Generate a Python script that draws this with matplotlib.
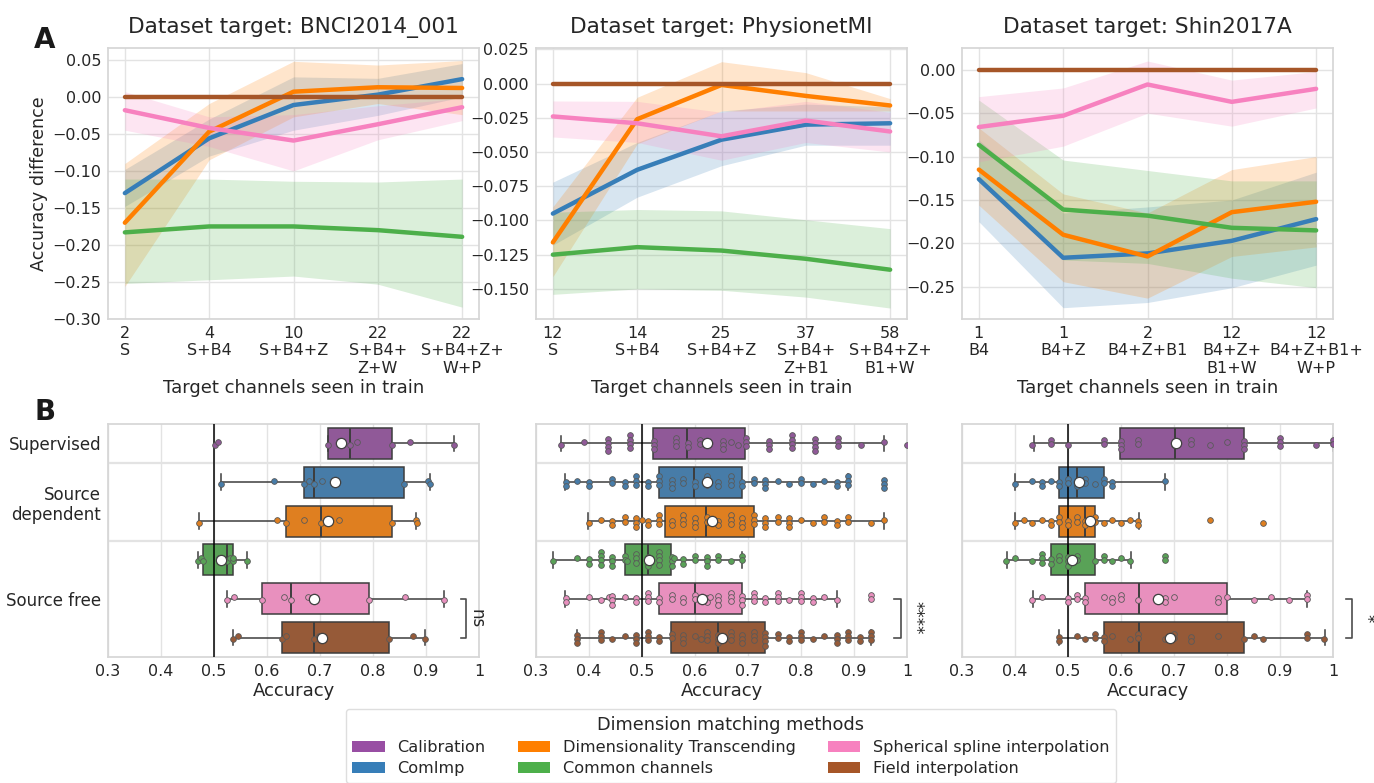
import colorsys
import numpy as np
import matplotlib
matplotlib.use("Agg")
import matplotlib.pyplot as plt
from matplotlib.patches import Patch
import matplotlib.colors as mcolors

plt.rcParams['font.family'] = ['DejaVu Sans']
plt.rcParams['text.color'] = '0.15'
plt.rcParams['axes.labelcolor'] = '0.15'
plt.rcParams['xtick.color'] = '0.15'
plt.rcParams['ytick.color'] = '0.15'

# ---------------- DATA ----------------
methods = ["Calibration", "ComImp", "Dimensionality Transcending",
           "Common channels", "Spherical spline interpolation", "Field interpolation"]
method_colors = ["#984ea3", "#377eb8", "#ff7f00", "#4daf4a", "#f781bf", "#a65628"]

titles = ["Dataset target: BNCI2014_001", "Dataset target: PhysionetMI", "Dataset target: Shin2017A"]

xt_bnci = ["2\nS", "4\nS+B4", "10\nS+B4+Z", "22\nS+B4+\nZ+W", "22\nS+B4+Z+\nW+P"]
xt_phys = ["12\nS", "14\nS+B4", "25\nS+B4+Z", "37\nS+B4+\nZ+B1", "58\nS+B4+Z+\nB1+W"]
xt_shin = ["1\nB4", "1\nB4+Z", "2\nB4+Z+B1", "12\nB4+Z+\nB1+W", "12\nB4+Z+B1+\nW+P"]

# line means (order: ComImp, DT, Common, Spherical, Field)
bnci_comimp = [-0.130, -0.056, -0.011, 0.003, 0.024]
bnci_dt = [-0.170, -0.047, 0.007, 0.013, 0.012]
bnci_common = [-0.183, -0.175, -0.175, -0.180, -0.189]
bnci_spline = [-0.018, -0.042, -0.059, -0.037, -0.014]
bnci_field = [0.0, 0.0, 0.0, 0.0, 0.0]
bnci_comimp_lo = [-0.148, -0.080, -0.045, -0.025, 0.000]
bnci_comimp_hi = [-0.098, -0.030, 0.027, 0.025, 0.045]
bnci_dt_lo = [-0.256, -0.085, -0.027, -0.009, -0.024]
bnci_dt_hi = [-0.090, -0.009, 0.048, 0.043, 0.049]
bnci_common_lo = [-0.252, -0.247, -0.242, -0.253, -0.284]
bnci_common_hi = [-0.111, -0.111, -0.114, -0.115, -0.111]
bnci_spline_lo = [-0.045, -0.067, -0.100, -0.058, -0.032]
bnci_spline_hi = [0.007, -0.027, -0.024, -0.012, -0.002]

phys_comimp = [-0.095, -0.063, -0.041, -0.030, -0.029]
phys_dt = [-0.116, -0.026, -0.001, -0.009, -0.016]
phys_common = [-0.125, -0.1195, -0.122, -0.128, -0.136]
phys_spline = [-0.024, -0.029, -0.0385, -0.027, -0.035]
phys_field = [0.0, 0.0, 0.0, 0.0, 0.0]
phys_comimp_lo = [-0.118, -0.083, -0.060, -0.045, -0.045]
phys_comimp_hi = [-0.072, -0.043, -0.020, -0.015, -0.017]
phys_dt_lo = [-0.141, -0.044, -0.020, -0.020, -0.020]
phys_dt_hi = [-0.090, -0.010, 0.016, 0.008, -0.011]
phys_common_lo = [-0.154, -0.150, -0.151, -0.156, -0.164]
phys_common_hi = [-0.094, -0.092, -0.093, -0.0995, -0.106]
phys_spline_lo = [-0.039, -0.043, -0.056, -0.043, -0.050]
phys_spline_hi = [-0.0127, -0.013, -0.021, -0.013, -0.021]

shin_comimp = [-0.126, -0.2165, -0.2115, -0.197, -0.172]
shin_dt = [-0.115, -0.190, -0.215, -0.164, -0.152]
shin_common = [-0.0865, -0.161, -0.168, -0.182, -0.185]
shin_spline = [-0.066, -0.053, -0.017, -0.037, -0.022]
shin_field = [0.0, 0.0, 0.0, 0.0, 0.0]
shin_comimp_lo = [-0.175, -0.274, -0.268, -0.251, -0.225]
shin_comimp_hi = [-0.081, -0.165, -0.158, -0.150, -0.118]
shin_dt_lo = [-0.156, -0.244, -0.263, -0.215, -0.204]
shin_dt_hi = [-0.067, -0.143, -0.165, -0.115, -0.100]
shin_common_lo = [-0.129, -0.219, -0.223, -0.240, -0.251]
shin_common_hi = [-0.035, -0.104, -0.116, -0.128, -0.128]
shin_spline_lo = [-0.106, -0.088, -0.050, -0.065, -0.044]
shin_spline_hi = [-0.031, -0.021, 0.010, -0.012, -0.002]

# bottom panels: box statistics per method (Calibration..Field)
bnci_q1 = [0.715, 0.670, 0.635, 0.479, 0.591, 0.628]
bnci_med = [0.757, 0.688, 0.701, 0.525, 0.646, 0.688]
bnci_q3 = [0.835, 0.858, 0.835, 0.535, 0.792, 0.830]
bnci_wlo = [0.715, 0.514, 0.472, 0.469, 0.525, 0.535]
bnci_whi = [0.952, 0.907, 0.882, 0.562, 0.934, 0.899]
bnci_mean = [0.740, 0.728, 0.715, 0.513, 0.689, 0.704]

phys_q1 = [0.520, 0.533, 0.544, 0.467, 0.533, 0.555]
phys_med = [0.585, 0.599, 0.621, 0.511, 0.600, 0.644]
phys_q3 = [0.695, 0.689, 0.711, 0.555, 0.689, 0.733]
phys_wlo = [0.347, 0.354, 0.399, 0.332, 0.354, 0.378]
phys_whi = [0.957, 0.889, 0.956, 0.689, 0.867, 0.933]
phys_mean = [0.623, 0.623, 0.633, 0.514, 0.614, 0.651]

shin_q1 = [0.599, 0.483, 0.483, 0.467, 0.533, 0.567]
shin_med = [0.701, 0.517, 0.533, 0.500, 0.634, 0.634]
shin_q3 = [0.833, 0.567, 0.550, 0.550, 0.800, 0.833]
shin_wlo = [0.435, 0.400, 0.400, 0.384, 0.434, 0.483]
shin_whi = [1.000, 0.683, 0.634, 0.618, 0.951, 0.984]
shin_mean = [0.703, 0.520, 0.541, 0.507, 0.670, 0.693]

# per-subject points: (accuracy, number of subjects at that value)
bnci_points = [
    [(0.501, 1), (0.508, 1), (0.715, 1), (0.740, 1), (0.757, 1), (0.770, 1), (0.835, 1), (0.869, 1), (0.952, 1)],
    [(0.514, 1), (0.614, 1), (0.670, 1), (0.680, 1), (0.688, 1), (0.704, 1), (0.858, 1), (0.904, 1), (0.907, 1)],
    [(0.472, 1), (0.618, 1), (0.635, 1), (0.670, 1), (0.701, 1), (0.736, 1), (0.835, 1), (0.882, 1), (0.883, 1)],
    [(0.469, 1), (0.475, 1), (0.479, 1), (0.510, 1), (0.525, 1), (0.530, 1), (0.535, 1), (0.536, 1), (0.562, 1)],
    [(0.525, 1), (0.538, 1), (0.591, 1), (0.632, 1), (0.646, 1), (0.677, 1), (0.792, 1), (0.861, 1), (0.934, 1)],
    [(0.535, 1), (0.545, 1), (0.628, 1), (0.635, 1), (0.688, 1), (0.698, 1), (0.830, 1), (0.875, 1), (0.899, 1)],
]
phys_points = [
    [(0.348, 1), (0.391, 1), (0.435, 4), (0.478, 4), (0.522, 3), (0.565, 3), (0.587, 2), (0.609, 2), (0.652, 3),
     (0.667, 1), (0.681, 1), (0.696, 3), (0.739, 3), (0.783, 4), (0.826, 4), (0.870, 3), (0.913, 1), (0.957, 1), (1.0, 1)],
    [(0.356, 2), (0.378, 1), (0.4, 2), (0.444, 2), (0.467, 2), (0.489, 3), (0.511, 2), (0.533, 3), (0.556, 3),
     (0.578, 2), (0.6, 2), (0.622, 3), (0.644, 2), (0.667, 3), (0.689, 2), (0.711, 2), (0.733, 3), (0.756, 1),
     (0.778, 1), (0.8, 2), (0.822, 1), (0.844, 1), (0.867, 2), (0.889, 3), (0.956, 3)],
    [(0.4, 1), (0.422, 1), (0.444, 2), (0.467, 2), (0.489, 3), (0.5, 1), (0.511, 2), (0.533, 3), (0.556, 2),
     (0.578, 3), (0.6, 3), (0.622, 2), (0.644, 2), (0.667, 3), (0.689, 3), (0.711, 3), (0.733, 3), (0.756, 2),
     (0.778, 3), (0.8, 1), (0.822, 1), (0.844, 2), (0.867, 2), (0.889, 2), (0.933, 1), (0.956, 1)],
    [(0.333, 1), (0.378, 1), (0.4, 2), (0.422, 4), (0.444, 3), (0.467, 2), (0.472, 1), (0.489, 3), (0.511, 3),
     (0.533, 4), (0.556, 3), (0.56, 1), (0.578, 2), (0.6, 2), (0.622, 3), (0.644, 2), (0.667, 1), (0.689, 2)],
    [(0.356, 2), (0.4, 1), (0.422, 1), (0.437, 1), (0.444, 3), (0.467, 1), (0.489, 2), (0.511, 3), (0.533, 2),
     (0.556, 2), (0.578, 2), (0.6, 2), (0.622, 2), (0.629, 1), (0.644, 3), (0.667, 3), (0.689, 3), (0.711, 3),
     (0.733, 2), (0.756, 3), (0.778, 1), (0.8, 3), (0.822, 2), (0.844, 1), (0.867, 1), (0.933, 2)],
    [(0.378, 3), (0.422, 3), (0.444, 1), (0.467, 1), (0.489, 3), (0.511, 3), (0.533, 2), (0.556, 2), (0.578, 3),
     (0.6, 1), (0.611, 1), (0.622, 3), (0.644, 3), (0.667, 3), (0.689, 3), (0.711, 3), (0.733, 4), (0.756, 2),
     (0.778, 2), (0.8, 3), (0.822, 1), (0.844, 1), (0.867, 3), (0.889, 3), (0.911, 2), (0.933, 3)],
]
shin_points = [
    [(0.433, 1), (0.467, 2), (0.5, 1), (0.567, 2), (0.6, 3), (0.633, 2), (0.7, 1), (0.733, 2), (0.767, 1),
     (0.8, 1), (0.833, 3), (0.9, 3), (0.967, 1), (1.0, 2)],
    [(0.4, 1), (0.433, 1), (0.45, 2), (0.467, 1), (0.483, 2), (0.5, 2), (0.517, 2), (0.533, 2), (0.55, 1),
     (0.567, 2), (0.583, 2), (0.683, 1)],
    [(0.4, 1), (0.417, 1), (0.433, 1), (0.45, 1), (0.467, 2), (0.483, 2), (0.5, 2), (0.517, 2), (0.533, 2),
     (0.55, 2), (0.567, 1), (0.583, 1), (0.6, 1), (0.617, 1), (0.633, 2), (0.767, 1), (0.867, 1)],
    [(0.383, 1), (0.4, 1), (0.433, 1), (0.45, 3), (0.467, 2), (0.483, 2), (0.5, 3), (0.517, 2), (0.55, 1),
     (0.567, 2), (0.583, 1), (0.6, 1), (0.617, 1), (0.683, 2)],
    [(0.433, 1), (0.45, 1), (0.5, 2), (0.517, 2), (0.533, 2), (0.567, 1), (0.583, 2), (0.6, 2), (0.633, 1),
     (0.667, 1), (0.683, 2), (0.7, 1), (0.783, 2), (0.8, 1), (0.85, 1), (0.883, 1), (0.917, 1), (0.95, 2)],
    [(0.483, 2), (0.517, 1), (0.533, 1), (0.55, 2), (0.567, 2), (0.583, 1), (0.617, 1), (0.633, 2), (0.683, 1),
     (0.7, 2), (0.733, 2), (0.783, 1), (0.833, 1), (0.85, 1), (0.867, 1), (0.95, 2), (0.983, 1)],
]

sig_labels = ["ns", "****", "*"]
group_labels = ["Supervised", "Source\ndependent", "Source free"]
acc_ticks = [0.3, 0.4, 0.5, 0.6, 0.7, 0.8, 0.9, 1.0]
acc_ticklabels = ["0.3", "0.4", "0.5", "0.6", "0.7", "0.8", "0.9", "1"]

# ---------------- STYLE ----------------
GRID = "#e3e3e3"
SPINE = "#d6d6d6"
TICK_FS = 11.5
LABEL_FS = 13
TITLE_FS = 15.6


def desat(c, s=0.75):
    r, g, b = mcolors.to_rgb(c)
    h, l, sat = colorsys.rgb_to_hls(r, g, b)
    return colorsys.hls_to_rgb(h, l, sat * s)


box_colors = [desat(c) for c in method_colors]

W, H = 1374, 783
fig = plt.figure(figsize=(W / 100, H / 100), dpi=100)


def px_axes(x0, y0, x1, y1):
    return fig.add_axes([x0 / W, 1 - y1 / H, (x1 - x0) / W, (y1 - y0) / H])


def style(ax):
    for s in ax.spines.values():
        s.set_color(SPINE)
        s.set_linewidth(1.25)
    ax.tick_params(length=0, labelsize=TICK_FS, pad=5)
    ax.set_axisbelow(True)


lefts = [108, 536, 962]
top_axes = [px_axes(l, 48, l + 371, 319) for l in lefts]
bot_axes = [px_axes(l, 424, l + 371, 657) for l in lefts]

top_data = [
    (xt_bnci, [bnci_comimp, bnci_dt, bnci_common, bnci_spline, bnci_field],
     [(bnci_comimp_lo, bnci_comimp_hi), (bnci_dt_lo, bnci_dt_hi), (bnci_common_lo, bnci_common_hi),
      (bnci_spline_lo, bnci_spline_hi), None],
     (-0.30, 0.066), np.arange(-0.30, 0.051, 0.05), "{:.2f}"),
    (xt_phys, [phys_comimp, phys_dt, phys_common, phys_spline, phys_field],
     [(phys_comimp_lo, phys_comimp_hi), (phys_dt_lo, phys_dt_hi), (phys_common_lo, phys_common_hi),
      (phys_spline_lo, phys_spline_hi), None],
     (-0.172, 0.026), np.arange(-0.150, 0.026, 0.025), "{:.3f}"),
    (xt_shin, [shin_comimp, shin_dt, shin_common, shin_spline, shin_field],
     [(shin_comimp_lo, shin_comimp_hi), (shin_dt_lo, shin_dt_hi), (shin_common_lo, shin_common_hi),
      (shin_spline_lo, shin_spline_hi), None],
     (-0.287, 0.025), np.arange(-0.25, 0.001, 0.05), "{:.2f}"),
]

for i, (ax, (xt, means, bands, ylim, yt, fmt)) in enumerate(zip(top_axes, top_data)):
    style(ax)
    ax.grid(True, color=GRID, lw=1.0)
    x = np.arange(len(xt))
    for k, (m, b) in enumerate(zip(means, bands)):
        col = method_colors[k + 1]
        if b is not None:
            ax.fill_between(x, b[0], b[1], color=col, alpha=0.2, lw=0)
    for k, m in enumerate(means):
        col = method_colors[k + 1]
        ax.plot(x, m, color=col, lw=3.2, solid_capstyle='round', zorder=3 + k * 0.1)
    ax.set_xlim(-0.2, 4.2)
    ax.set_ylim(*ylim)
    ax.set_xticks(x)
    ax.set_xticklabels(xt, fontsize=TICK_FS, linespacing=1.2)
    ax.set_yticks(yt)
    ax.set_yticklabels([fmt.format(v).replace('-', '\u2212') if abs(v) > 1e-9 else fmt.format(0.0) for v in yt])
    ax.set_xlabel("Target channels seen in train", fontsize=LABEL_FS, labelpad=2)
    ax.set_title(titles[i], fontsize=TITLE_FS, pad=11)
top_axes[0].set_ylabel("Accuracy difference", fontsize=12.6, labelpad=3)

bot_data = [
    (bnci_q1, bnci_med, bnci_q3, bnci_wlo, bnci_whi, bnci_mean, bnci_points),
    (phys_q1, phys_med, phys_q3, phys_wlo, phys_whi, phys_mean, phys_points),
    (shin_q1, shin_med, shin_q3, shin_wlo, shin_whi, shin_mean, shin_points),
]
sig_x = [(0.966, 0.975, 0.996), (0.976, 0.989, 1.016), (1.024, 1.036, 1.064)]

EDGE = "#3d3d3d"
for i, (ax, (q1, med, q3, wlo, whi, mean, pts)) in enumerate(zip(bot_axes, bot_data)):
    style(ax)
    ax.grid(True, axis='x', color=GRID, lw=1.0)
    for yy in (0.5, 2.5):
        ax.axhline(yy, color=GRID, lw=1.6, zorder=0)
    stats = []
    for k in range(6):
        stats.append(dict(q1=q1[k], med=med[k], q3=q3[k], whislo=wlo[k], whishi=whi[k],
                          mean=mean[k], fliers=[], label=methods[k]))
    bp = ax.bxp(stats, positions=range(6), widths=0.8, vert=False, patch_artist=True,
                showmeans=False, showfliers=False, capwidths=0.4,
                boxprops=dict(edgecolor=EDGE, linewidth=1.1),
                medianprops=dict(color=EDGE, linewidth=1.4),
                whiskerprops=dict(color=EDGE, linewidth=1.1),
                capprops=dict(color=EDGE, linewidth=1.1))
    for patch, c in zip(bp['boxes'], box_colors):
        patch.set_facecolor(c)
        patch.set_zorder(2)
    ax.axvline(0.5, color='black', lw=1.1, zorder=3)
    # strip points
    for k, rowpts in enumerate(pts):
        xs, ys = [], []
        for j, (v, c) in enumerate(rowpts):
            shift = 0.04 if j % 2 == 0 else -0.04
            offs = np.linspace(-0.055 * (c - 1), 0.055 * (c - 1), c) + shift
            for o in offs:
                xs.append(v)
                ys.append(k + o)
        ax.scatter(xs, ys, s=17, color=box_colors[k], edgecolor='0.35', linewidth=0.6, zorder=4)
    ax.scatter(mean, range(6), s=55, color='white', edgecolor='0.25', linewidth=0.9, zorder=5)
    ax.set_xlim(0.3, 1.0)
    ax.set_ylim(5.5, -0.5)
    ax.set_xticks(acc_ticks)
    ax.set_xticklabels(acc_ticklabels)
    ax.set_xlabel("Accuracy", fontsize=LABEL_FS, labelpad=2)
    if i == 0:
        ax.set_yticks([0, 1.5, 4])
        ax.set_yticklabels(group_labels, fontsize=TICK_FS + 0.5, ha='right', multialignment='right')
    else:
        ax.set_yticks([])
    xa, xb, xtx = sig_x[i]
    ax.plot([xa, xb, xb, xa], [4, 4, 5, 5], color='0.3', lw=1.2, clip_on=False, zorder=6)
    ax.text(xtx, 4.5, sig_labels[i], rotation=-90, ha='center', va='center', fontsize=12, clip_on=False)

fig.text(45 / W, 1 - 40 / H, "A", fontsize=20, fontweight='bold', ha='center', va='center', color='0.1')
fig.text(45 / W, 1 - 412 / H, "B", fontsize=20, fontweight='bold', ha='center', va='center', color='0.1')

handles = [Patch(facecolor=c, edgecolor='none') for c in method_colors]
leg = fig.legend(handles, methods, ncol=3, loc='upper center', bbox_to_anchor=(0.532, 1 - 701 / H),
                 title="Dimension matching methods", fontsize=11.6, title_fontsize=12.8,
                 frameon=True, handlelength=2.0, handleheight=0.7, columnspacing=2.0,
                 labelspacing=0.4, borderpad=0.4, handletextpad=0.8)
leg.get_frame().set_edgecolor('#d6d6d6')

fig.savefig("out.png", dpi=100)
